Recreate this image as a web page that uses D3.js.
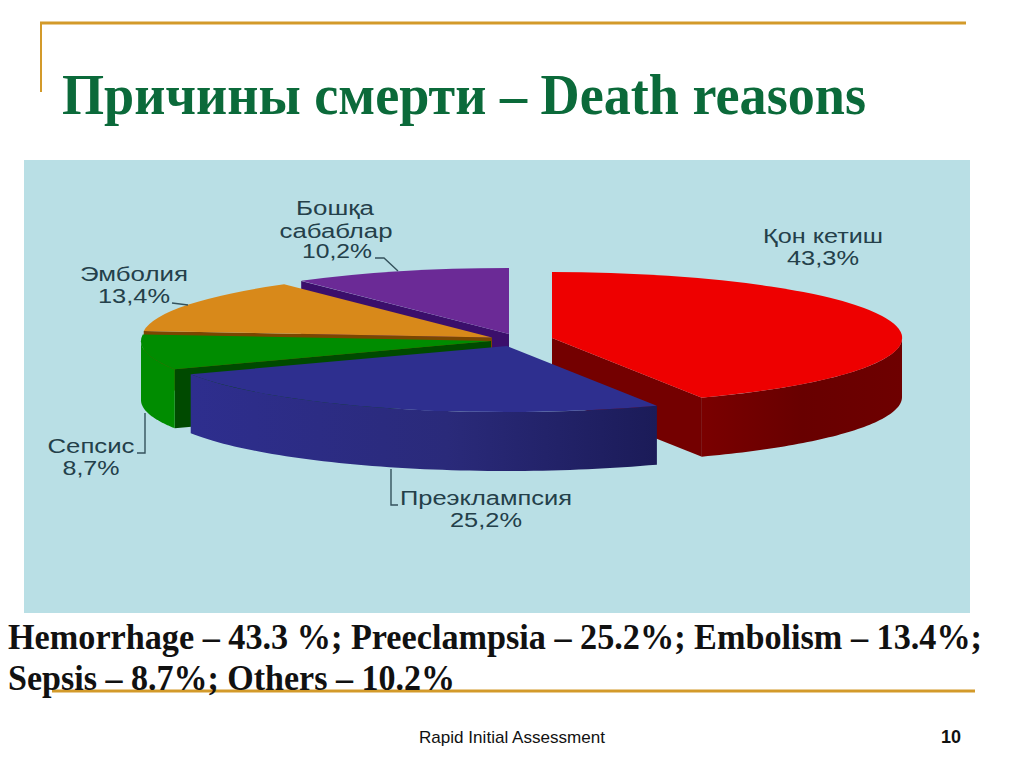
<!DOCTYPE html>
<html>
<head>
<meta charset="utf-8">
<script src="https://cdn.jsdelivr.net/npm/d3@7"></script>
<style>
  html, body { margin: 0; padding: 0; background: #fff; }
  svg { display: block; }
  .lbl { font-family: "Liberation Sans", Arial, sans-serif; font-size: 20px; fill: #24404a; }
</style>
</head>
<body>
<div id="chart"></div>
<script>
// data
const categories = ['Қон кетиш', 'Преэклампсия', 'Сепсис', 'Эмболия', 'Бошқа сабаблар'];
const values = [43.3, 25.2, 8.7, 13.4, 10.2];
const notes = ['Hemorrhage – 43.3 %; Preeclampsia – 25.2%; Embolism – 13.4%;', 'Sepsis – 8.7%; Others – 10.2%'];

// layout
const W = 1024, H = 767;
const rx = 350, ry = 66, depth = 59;
const cx = 512, cy = 340;
// how far each slice is pulled out of the pie
const pull = [[40, -2], [-5, 6], [-21, 1], [-20, -2.5], [-3, -6]];
const topColor = ['#ee0000', '#2e2f8f', '#008c00', '#d8891a', '#6b2a96'];
const cutColor = ['#740000', '#2e2f8f', '#004a00', '#7a4600', '#3b0f6b'];
const rimColor = ['url(#rimRed)', 'url(#rimBlue)', '#008c00', '#7a4600', '#3b0f6b'];
const drawOrder = [4, 3, 2, 0, 1];
// label lines: text, centre x, baseline y, width on screen
const labelPos = [
  [[823, 243, 120], [823, 265, 72]],
  [[486, 505, 172], [486, 527, 72]],
  [[91, 453, 87], [91, 475, 57]],
  [[134, 281, 108], [134, 303, 72]],
  [[335, 215, 78], [336, 238, 113], [337, 258, 70]]
];
const labelLines = [
  ['Қон кетиш'],
  ['Преэклампсия'],
  ['Сепсис'],
  ['Эмболия'],
  ['Бошқа', 'сабаблар']
];
const leaders = [
  [[391, 469], [391, 505], [398, 505]],
  [[145, 413], [145, 453], [137, 453]],
  [[172, 303], [188, 305]],
  [[375, 258], [384, 258], [398, 271]]
];

const svg = d3.select('#chart').append('svg').attr('width', W).attr('height', H);
const defs = svg.append('defs');

function gradient(id, stops) {
  const g = defs.append('linearGradient').attr('id', id)
    .attr('x1', 0).attr('x2', 1).attr('y1', 0).attr('y2', 0);
  stops.forEach(s => g.append('stop').attr('offset', s[0]).attr('stop-color', s[1]));
}
gradient('rimRed', [[0, '#7a0000'], [0.5, '#680000'], [1, '#6e0000']]);
gradient('rimBlue', [[0, '#2e2e8e'], [0.55, '#2a2a7a'], [1, '#1b1b58']]);

// slide furniture
const gold = '#d39a2a';
svg.append('rect').attr('x', 24).attr('y', 160).attr('width', 946).attr('height', 453).attr('fill', '#b9dfe5');
svg.append('line').attr('x1', 40).attr('x2', 966).attr('y1', 23).attr('y2', 23).attr('stroke', gold).attr('stroke-width', 3);
svg.append('line').attr('x1', 41).attr('x2', 41).attr('y1', 23).attr('y2', 92).attr('stroke', gold).attr('stroke-width', 2);
svg.append('line').attr('x1', 52).attr('x2', 975).attr('y1', 691).attr('y2', 691).attr('stroke', gold).attr('stroke-width', 3);

svg.append('text').attr('x', 62).attr('y', 114)
  .attr('textLength', 804).attr('lengthAdjust', 'spacingAndGlyphs')
  .style('font', 'bold 58px "Liberation Serif", serif').style('fill', '#0b6a3a')
  .text('Причины смерти – Death reasons');

// pie
const arcs = d3.pie().sort(null).value(d => d)(values);
const unitArc = d3.arc().innerRadius(0).outerRadius(1);
const px = a => rx * Math.sin(a);
const py = a => -ry * Math.cos(a);

drawOrder.forEach(i => {
  const s = arcs[i];
  const g = svg.append('g').attr('transform', `translate(${cx + pull[i][0]},${cy + pull[i][1]})`);

  // cut face, only when it turns towards the viewer
  const cutAngle = Math.sin(s.startAngle) < -1e-6 ? s.startAngle
    : (Math.sin(s.endAngle) > 1e-6 ? s.endAngle : null);
  if (cutAngle !== null) {
    const x = px(cutAngle), y = py(cutAngle);
    g.append('path').attr('fill', cutColor[i])
      .attr('d', d3.line()([[0, 0], [x, y], [x, y + depth], [0, depth]]) + 'Z');
  }

  // outer rim, front half only
  const a0 = Math.max(s.startAngle, Math.PI / 2);
  const a1 = Math.min(s.endAngle, Math.PI * 1.5);
  if (a1 > a0) {
    const steps = d3.range(0, 61).map(k => a0 + (a1 - a0) * k / 60);
    g.append('path').attr('fill', rimColor[i])
      .attr('d', d3.area().x(px).y0(py).y1(a => py(a) + depth)(steps));
  }

  // top
  g.append('path').attr('fill', topColor[i])
    .attr('transform', `scale(${rx},${ry})`)
    .attr('d', unitArc(s));
});

// leaders
leaders.forEach(p => {
  svg.append('path').attr('d', d3.line()(p)).attr('fill', 'none')
    .attr('stroke', '#34525c').attr('stroke-width', 1.4);
});

// labels
const pct = v => String(v).replace('.', ',') + '%';
values.forEach((v, i) => {
  labelLines[i].concat([pct(v)]).forEach((t, k) => {
    const p = labelPos[i][k];
    svg.append('text').attr('class', 'lbl')
      .attr('x', p[0] - p[2] / 2).attr('y', p[1])
      .attr('textLength', p[2]).attr('lengthAdjust', 'spacingAndGlyphs')
      .text(t);
  });
});

// notes under the chart
const noteWidth = [974, 447];
notes.forEach((t, i) => {
  svg.append('text').attr('x', 8).attr('y', 649 + i * 41)
    .attr('textLength', noteWidth[i]).attr('lengthAdjust', 'spacingAndGlyphs')
    .style('font', 'bold 35px "Liberation Serif", serif').style('fill', '#111')
    .text(t);
});

// footer
svg.append('text').attr('x', 419).attr('y', 743)
  .attr('textLength', 186).attr('lengthAdjust', 'spacingAndGlyphs')
  .style('font', '17px "Liberation Sans", Arial, sans-serif').style('fill', '#111')
  .text('Rapid Initial Assessment');
svg.append('text').attr('x', 941).attr('y', 743)
  .style('font', 'bold 18px "Liberation Sans", Arial, sans-serif').style('fill', '#111')
  .text('10');
</script>
</body>
</html>
